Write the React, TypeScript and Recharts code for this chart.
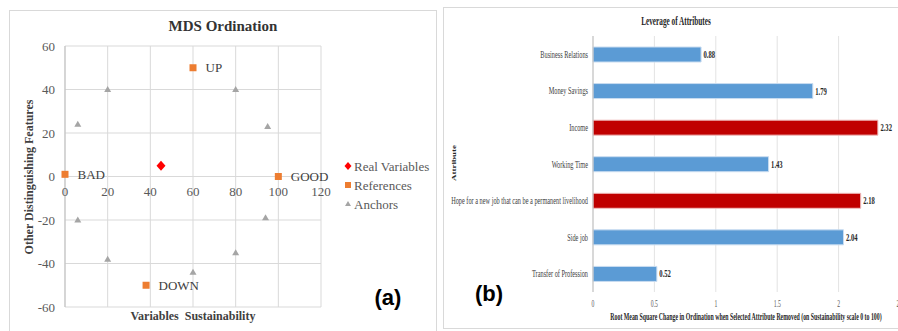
import React from "react";
import { ScatterChart, Scatter, XAxis, YAxis, CartesianGrid, LabelList, BarChart, Bar, Cell } from "recharts";

const SERIF = "Liberation Serif, DejaVu Serif, serif";
const SANS = "Liberation Sans, Arial, sans-serif";

// (a) MDS ordination
const realX = [45];
const realY = [5];
const refNames = ["UP", "DOWN", "BAD", "GOOD"];
const refX = [60, 38, 0, 100];
const refY = [50, -50, 1, 0];
const anchorX = [20, 80, 6, 95, 6, 94, 20, 80, 60];
const anchorY = [40, 40, 24, 23, -20, -19, -38, -35, -44];
const xTicksA = [0, 20, 40, 60, 80, 100, 120];
const yTicksA = [-60, -40, -20, 0, 20, 40, 60];

// (b) leverage of attributes
const attributes = [
  "Business Relations",
  "Money Savings",
  "Income",
  "Working Time",
  "Hope for a new job that can be a permanent livelihood",
  "Side job",
  "Transfer of Profession",
];
const leverage = [0.88, 1.79, 2.32, 1.43, 2.18, 2.04, 0.52];
const highlighted = [false, false, true, false, true, false, false];
const xTicksB = [0, 0.5, 1, 1.5, 2, 2.5];

const realData = realX.map((x, i) => ({ x, y: realY[i] }));
const refData = refX.map((x, i) => ({ x, y: refY[i], name: refNames[i] }));
const anchorData = anchorX.map((x, i) => ({ x, y: anchorY[i] }));
const barData = attributes.map((name, i) => ({ name, value: leverage[i], hi: highlighted[i] }));

const C = {
  red: "#ff0000",
  orange: "#ed7d31",
  grey: "#a5a5a5",
  blue: "#5b9bd5",
  darkRed: "#c00000",
  grid: "#d9d9d9",
  text: "#595959",
};

const serif = { fontFamily: SERIF };

// chart (a) geometry
const A_W = 426, A_H = 319;
const A_M = { top: 35, right: 115, bottom: 3, left: 25 };
const A_PLOT_H = A_H - A_M.top - A_M.bottom - 20;

const Diamond = ({ cx, cy }: any) => (
  <polygon points={`${cx},${cy - 5} ${cx + 4.5},${cy} ${cx},${cy + 5} ${cx - 4.5},${cy}`} fill={C.red} />
);
const Square = ({ cx, cy }: any) => <rect x={cx - 3.5} y={cy - 3.5} width={7} height={7} fill={C.orange} />;
const Triangle = ({ cx, cy }: any) => (
  <polygon points={`${cx},${cy - 3.5} ${cx + 3.5},${cy + 2.5} ${cx - 3.5},${cy + 2.5}`} fill={C.grey} />
);

// x tick labels sit under the y = 0 line, not under the plot
function ZeroTick({ x, y, payload }: any) {
  return (
    <text x={x} y={y - 8 - A_PLOT_H / 2 + 19} textAnchor="middle" fill={C.text} fontSize={13} style={serif}>
      {payload.value}
    </text>
  );
}

function YTickA({ x, y, payload }: any) {
  return (
    <text x={x} y={y + 4.5} textAnchor="end" fill={C.text} fontSize={13} style={serif}>
      {payload.value}
    </text>
  );
}

function AttrTick({ x, y, payload }: any) {
  return (
    <g transform={`translate(${x},${y})`}>
      <text x={0} y={0} dy={3.5} textAnchor="end" transform="scale(0.6,1)" fontSize={10.5} fill="#404040" style={serif}>
        {payload.value}
      </text>
    </g>
  );
}

function BTick({ x, y, payload }: any) {
  return (
    <g transform={`translate(${x},${y})`}>
      <text x={0} y={0} dy={7} textAnchor="middle" transform="scale(0.6,1)" fontSize={9.5} fill={C.text} style={serif}>
        {payload.value}
      </text>
    </g>
  );
}

function ValueLabel({ x, y, width, height, value }: any) {
  return (
    <g transform={`translate(${x + width + 2.5},${y + height / 2})`}>
      <text x={0} y={0} dy={3.5} transform="scale(0.6,1)" fontSize={11} fontWeight="bold" fill="#262626" style={serif}>
        {Number(value).toFixed(2)}
      </text>
    </g>
  );
}

const legendItems = [
  { label: "Real Variables", shape: "diamond" },
  { label: "References", shape: "square" },
  { label: "Anchors", shape: "triangle" },
];

function LegendMark({ shape, cx, cy }: { shape: string; cx: number; cy: number }) {
  if (shape === "diamond")
    return <polygon points={`${cx},${cy - 4} ${cx + 3.5},${cy} ${cx},${cy + 4} ${cx - 3.5},${cy}`} fill={C.red} />;
  if (shape === "square") return <rect x={cx - 3} y={cy - 3} width={6} height={6} fill={C.orange} />;
  return <polygon points={`${cx},${cy - 3} ${cx + 3},${cy + 2} ${cx - 3},${cy + 2}`} fill={C.grey} />;
}

function PanelA() {
  return (
    <div style={{ position: "absolute", left: 9, top: 10, width: 426, height: 330, border: `1px solid ${C.grid}`, background: "#fff" }}>
      <ScatterChart width={A_W} height={A_H} margin={A_M}>
        <CartesianGrid stroke={C.grid} horizontal vertical />
        <XAxis type="number" dataKey="x" domain={[0, 120]} ticks={xTicksA} axisLine={false} tickLine={false} height={20} tick={<ZeroTick />} interval={0} />
        <YAxis type="number" dataKey="y" domain={[-60, 60]} ticks={yTicksA} width={30} axisLine={{ stroke: "#bfbfbf" }} tickLine={false}
          tickSize={6} tickMargin={4} tick={<YTickA />} interval={0} />
        <Scatter data={anchorData} shape={<Triangle />} isAnimationActive={false} />
        <Scatter data={refData} shape={<Square />} isAnimationActive={false}>
          <LabelList dataKey="name" position="right" offset={8} fill="#404040" fontSize={13} style={serif} />
        </Scatter>
        <Scatter data={realData} shape={<Diamond />} isAnimationActive={false} />
      </ScatterChart>
      <svg width={426} height={330} style={{ position: "absolute", left: 0, top: 0, pointerEvents: "none" }}>
        <text x={213} y={20} textAnchor="middle" fontSize={15} fontWeight="bold" fill="#333" style={serif}>MDS Ordination</text>
        <text transform="translate(23,166) rotate(-90)" textAnchor="middle" fontSize={12} fontWeight="bold" fill="#404040" style={serif}>
          Other Distinguishing Features
        </text>
        <text x={183} y={309} textAnchor="middle" fontSize={12} fontWeight="bold" fill="#404040" style={{ ...serif, whiteSpace: "pre" }}>
          Variables  Sustainability
        </text>
        {legendItems.map((it, i) => (
          <g key={it.label}>
            <LegendMark shape={it.shape} cx={338} cy={155 + i * 19} />
            <text x={344} y={155 + i * 19 + 4.5} fontSize={13} fill={C.text} style={serif}>{it.label}</text>
          </g>
        ))}
        <text x={378} y={294} textAnchor="middle" fontSize={22} fontWeight="bold" fill="#000" style={{ fontFamily: SANS }}>(a)</text>
      </svg>
    </div>
  );
}

function PanelB() {
  return (
    <div style={{ position: "absolute", left: 443, top: 7, width: 480, height: 320, border: `1px solid ${C.grid}`, background: "#fff" }}>
      <BarChart width={470} height={320} data={barData} layout="vertical" margin={{ top: 28, right: 14, bottom: 16, left: 0 }} barCategoryGap="30%">
        <CartesianGrid stroke="#e3e3e3" horizontal={false} vertical />
        <XAxis type="number" domain={[0, 2.5]} ticks={xTicksB} axisLine={false} tickLine={false} height={20} tick={<BTick />} interval={0} />
        <YAxis type="category" dataKey="name" width={149} axisLine={{ stroke: "#bfbfbf" }} tickLine={false} tickSize={0} tickMargin={5}
          tick={<AttrTick />} interval={0} />
        <Bar dataKey="value" barSize={15} strokeWidth={1} isAnimationActive={false}>
          {barData.map((d, i) => (
            <Cell key={i} fill={d.hi ? C.darkRed : C.blue} stroke={d.hi ? "#f0c0c0" : "#c9dcf0"} />
          ))}
          <LabelList dataKey="value" content={<ValueLabel />} />
        </Bar>
      </BarChart>
      <svg width={470} height={320} style={{ position: "absolute", left: 0, top: 0, pointerEvents: "none" }}>
        <text transform="translate(232,17) scale(0.63,1)" textAnchor="middle" fontSize={11.5} fontWeight="bold" fill="#262626" style={serif}>
          Leverage of Attributes
        </text>
        <text transform="translate(12,155) scale(0.6,1) rotate(-90)" textAnchor="middle" fontSize={9} fontWeight="bold" fill="#262626" style={serif}>
          Attribute
        </text>
        <text transform="translate(302,312) scale(0.585,1)" textAnchor="middle" fontSize={10} fontWeight="bold" fill="#262626" style={serif}>
          Root Mean Square Change in Ordination when Selected Attribute Removed (on Sustainability scale 0 to 100)
        </text>
        <text x={45} y={293} textAnchor="middle" fontSize={22} fontWeight="bold" fill="#000" style={{ fontFamily: SANS }}>(b)</text>
      </svg>
    </div>
  );
}

export default function App() {
  return (
    <div style={{ position: "fixed", left: 0, top: 0, width: 898, height: 331, overflow: "hidden", background: "#fff" }}>
      <PanelA />
      <PanelB />
    </div>
  );
}
